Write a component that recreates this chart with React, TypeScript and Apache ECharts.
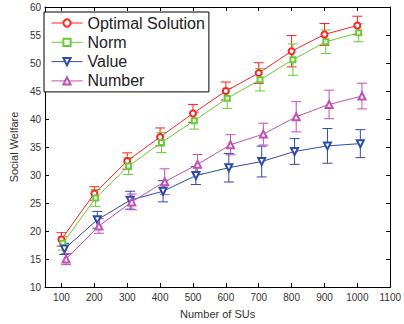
import React, { useEffect, useRef } from "react";
import * as echarts from "echarts";

const sus = [100, 200, 300, 400, 500, 600, 700, 800, 900, 1000];
const xTickValues = [100, 200, 300, 400, 500, 600, 700, 800, 900, 1000, 1100];

const optimal = [18.5, 26.7, 32.5, 36.8, 41.0, 45.0, 48.2, 52.1, 55.1, 56.7];
const optimalErr = [1.2, 1.2, 1.45, 1.6, 1.6, 1.6, 1.85, 2.8, 1.95, 1.65];
const norm = [17.8, 25.9, 31.6, 35.8, 39.7, 43.7, 47.0, 50.6, 53.8, 55.4];
const normErr = [1.2, 1.5, 1.5, 1.8, 1.5, 1.8, 2.0, 2.8, 2.1, 1.6];
const valueS = [16.8, 22.0, 25.5, 27.1, 29.9, 31.3, 32.4, 34.2, 35.2, 35.6];
const valueErr = [1.0, 1.5, 1.6, 1.9, 1.6, 2.55, 2.75, 2.3, 3.1, 2.5];
const numberS = [15.0, 20.9, 25.2, 28.8, 31.9, 35.4, 37.3, 40.4, 42.6, 44.1];
const numberErr = [1.0, 1.3, 1.4, 2.3, 1.75, 1.8, 1.95, 2.7, 2.55, 2.3];

// horizontal jitter of each series (in SU units), as in the original plot
const shiftOptimal = 0;
const shiftNorm = 4;
const shiftValue = 9;
const shiftNumber = 14;

const FONT = "'Liberation Sans', Arial, sans-serif";

export default function App() {
  const ref = useRef<HTMLDivElement>(null);
  useEffect(() => {
    if (!ref.current) return;
    const chart = echarts.init(ref.current, null, { renderer: "svg" });

    const defs = [
      { name: "Optimal Solution", vals: optimal, errs: optimalErr, shift: shiftOptimal, color: "#ff2222", symbol: "emptyCircle", size: 6, rot: 0 },
      { name: "Norm", vals: norm, errs: normErr, shift: shiftNorm, color: "#66cc33", symbol: "emptyRect", size: 5, rot: 0 },
      { name: "Value", vals: valueS, errs: valueErr, shift: shiftValue, color: "#2c4ca8", symbol: "emptyTriangle", size: 7, rot: 180 },
      { name: "Number", vals: numberS, errs: numberErr, shift: shiftNumber, color: "#c050b4", symbol: "emptyTriangle", size: 7, rot: 0 },
    ];

    const series: any[] = [];
    defs.forEach((d, si) => {
      series.push({
        name: "err" + si,
        type: "custom",
        xAxisIndex: 0,
        yAxisIndex: 0,
        z: 1,
        data: sus.map((x, i) => [x + d.shift, d.vals[i] - d.errs[i], d.vals[i] + d.errs[i]]),
        encode: { x: 0, y: [1, 2] },
        renderItem: (params: any, api: any) => {
          const x = api.value(0);
          const lo = api.value(1);
          const hi = api.value(2);
          const p1 = api.coord([x, hi]);
          const p2 = api.coord([x, lo]);
          const w = 5;
          const style = { stroke: d.color, lineWidth: 1, fill: null };
          return {
            type: "group",
            children: [
              { type: "line", shape: { x1: p1[0], y1: p1[1], x2: p2[0], y2: p2[1] }, style },
              { type: "line", shape: { x1: p1[0] - w, y1: p1[1], x2: p1[0] + w, y2: p1[1] }, style },
              { type: "line", shape: { x1: p2[0] - w, y1: p2[1], x2: p2[0] + w, y2: p2[1] }, style },
            ],
          };
        },
      });
    });
    defs.forEach((d) => {
      series.push({
        name: d.name,
        type: "line",
        xAxisIndex: 0,
        yAxisIndex: 0,
        z: 2,
        data: sus.map((x, i) => [x + d.shift, d.vals[i]]),
        symbol: d.symbol,
        symbolSize: d.size,
        symbolRotate: d.rot,
        lineStyle: { color: d.color, width: 1 },
        itemStyle: { color: d.color, borderColor: d.color, borderWidth: 1 },
      });
    });

    const axisCommon = {
      axisLine: { show: true, onZero: false, lineStyle: { color: "#000", width: 1 } },
      splitLine: { show: false },
    };

    chart.setOption({
      animation: false,
      textStyle: { fontFamily: FONT },
      grid: { left: 39, right: 10, top: 7, bottom: 30, containLabel: false },
      legend: {
        data: defs.map((d) => d.name),
        orient: "vertical",
        left: 44,
        top: 12,
        padding: [3, 4, 3, 7],
        itemGap: 3.3,
        itemWidth: 31,
        itemHeight: 9,
        borderColor: "#000",
        borderWidth: 1,
        backgroundColor: "#fff",
        lineStyle: { width: 1 },
        itemStyle: { borderWidth: 1 },
        textStyle: { fontSize: 16, color: "#222", fontFamily: FONT, lineHeight: 16 },
        selectedMode: false,
      },
      xAxis: [
        {
          type: "value",
          min: 50,
          max: 1100,
          position: "bottom",
          ...axisCommon,
          axisTick: { show: true, inside: true, length: 4, customValues: xTickValues, lineStyle: { color: "#000" } },
          axisLabel: { show: true, customValues: xTickValues, margin: 5, fontSize: 10, color: "#333", fontFamily: FONT, showMaxLabel: true, formatter: (v: number) => String(v) },
          name: "Number of SUs",
          nameLocation: "middle",
          nameGap: 21,
          nameTextStyle: { fontSize: 11, color: "#333", fontFamily: FONT },
        },
        {
          type: "value",
          min: 50,
          max: 1100,
          position: "top",
          ...axisCommon,
          axisTick: { show: true, inside: true, length: 4, customValues: xTickValues, lineStyle: { color: "#000" } },
          axisLabel: { show: false },
        },
      ],
      yAxis: [
        {
          type: "value",
          min: 10,
          max: 60,
          interval: 5,
          position: "left",
          ...axisCommon,
          axisTick: { show: true, inside: true, length: 4, lineStyle: { color: "#000" } },
          axisLabel: { show: true, margin: 4, fontSize: 10, color: "#333", fontFamily: FONT },
          name: "Social Welfare",
          nameLocation: "middle",
          nameGap: 20,
          nameTextStyle: { fontSize: 11, color: "#333", fontFamily: FONT },
        },
        {
          type: "value",
          min: 10,
          max: 60,
          interval: 5,
          position: "right",
          ...axisCommon,
          axisTick: { show: true, inside: true, length: 4, lineStyle: { color: "#000" } },
          axisLabel: { show: false },
        },
      ],
      series,
    });
    return () => chart.dispose();
  }, []);
  return <div ref={ref} style={{ position: "fixed", left: 0, top: 0, width: 404, height: 324, background: "#fff" }} />;
}
